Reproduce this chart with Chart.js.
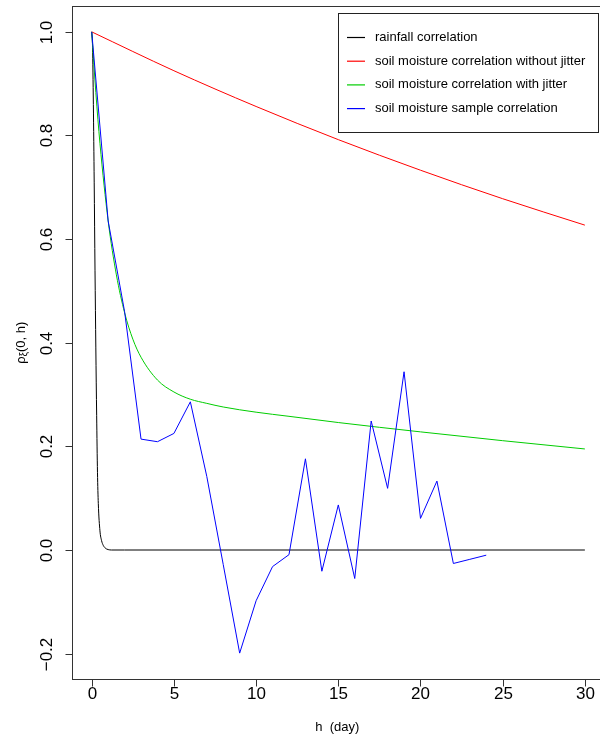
<!DOCTYPE html>
<html>
<head>
<meta charset="utf-8">
<script src="https://cdn.jsdelivr.net/npm/chart.js@4"></script>
<style>
  html, body { margin: 0; padding: 0; background: #fff; overflow: hidden; }
  canvas { display: block; }
</style>
</head>
<body>
<canvas id="c" width="610" height="738"></canvas>
<script>
// Lags (days) and correlation values for each curve
const rainLag = [0, 0.05, 0.1, 0.15, 0.2, 0.25, 0.3, 0.35, 0.4, 0.5, 0.6, 0.7, 0.8, 0.9, 1.0, 1.2, 2, 30];
const rainCorr = [1, 0.97, 0.86, 0.71, 0.54, 0.39, 0.26, 0.15, 0.09, 0.037, 0.018, 0.009, 0.0045, 0.002, 0.0008, 0, 0, 0];

const noJitterLag = [0, 5, 10, 15, 20, 25, 30];
const noJitterCorr = [1.0, 0.925, 0.856, 0.792, 0.733, 0.678, 0.627];

const jitterLag = [0, 0.25, 0.5, 1, 1.5, 2, 2.5, 3, 4, 5, 6, 7, 8, 10, 12, 15, 20, 25, 30];
const jitterCorr = [1.0, 0.883, 0.785, 0.635, 0.531, 0.458, 0.407, 0.372, 0.328, 0.305, 0.291, 0.283, 0.276, 0.266, 0.258, 0.246, 0.228, 0.211, 0.195];

const sampleLag = [0, 1, 2, 3, 4, 5, 6, 7, 8, 9, 10, 11, 12, 13, 14, 15, 16, 17, 18, 19, 20, 21, 22, 23, 24];
const sampleCorr = [1.0, 0.635, 0.46, 0.214, 0.209, 0.225, 0.286, 0.142, -0.028, -0.199, -0.098, -0.032, -0.009, 0.176, -0.041, 0.087, -0.055, 0.249, 0.119, 0.344, 0.061, 0.133, -0.026, -0.018, -0.010];

const seriesLabels = [
  'rainfall correlation',
  'soil moisture correlation without jitter',
  'soil moisture correlation with jitter',
  'soil moisture sample correlation'
];
const seriesColors = ['#000000', '#FF0000', '#00CD00', '#0000FF'];

const xTicks = [0, 5, 10, 15, 20, 25, 30];
const yTicks = [-0.2, 0.0, 0.2, 0.4, 0.6, 0.8, 1.0];
const yTickLabels = ['\u22120.2', '0.0', '0.2', '0.4', '0.6', '0.8', '1.0'];

const FONT = '"Liberation Sans", Arial, Helvetica, sans-serif';

function pts(xs, ys) { return xs.map((x, i) => ({ x: x, y: ys[i] })); }

// Base-graphics style frame: box, outward ticks, rotated y labels, legend
const framePlugin = {
  id: 'frame',
  afterDraw(chart) {
    const ctx = chart.ctx;
    const a = chart.chartArea;
    const xs = chart.scales.x, ys = chart.scales.y;
    ctx.save();
    ctx.strokeStyle = '#333';
    ctx.lineWidth = 1;
    ctx.strokeRect(Math.round(a.left) + 0.5, Math.round(a.top) - 0.5,
                   Math.round(a.right - a.left), Math.round(a.bottom - a.top) + 1);

    // x axis ticks and labels
    ctx.fillStyle = '#000';
    ctx.font = '17px ' + FONT;
    ctx.textAlign = 'center';
    ctx.textBaseline = 'middle';
    const by = Math.round(a.bottom) + 0.5;
    xTicks.forEach(v => {
      const px = Math.round(xs.getPixelForValue(v)) + 0.5;
      ctx.beginPath(); ctx.moveTo(px, by); ctx.lineTo(px, by + 7); ctx.stroke();
      ctx.fillText(String(v), px, 694);
    });

    // y axis ticks and rotated labels
    const lx = Math.round(a.left) + 0.5;
    yTicks.forEach((v, i) => {
      const py = Math.round(ys.getPixelForValue(v)) + 0.5;
      ctx.beginPath(); ctx.moveTo(lx, py); ctx.lineTo(lx - 7, py); ctx.stroke();
      ctx.save();
      ctx.translate(47, py);
      ctx.rotate(-Math.PI / 2);
      ctx.fillText(yTickLabels[i], 0, 0);
      ctx.restore();
    });

    // axis titles
    ctx.font = '13px ' + FONT;
    ctx.fillText('h  (day)', (a.left + a.right) / 2 - 1, 727);

    ctx.save();
    ctx.translate(20, (a.top + a.bottom) / 2);
    ctx.rotate(-Math.PI / 2);
    ctx.textAlign = 'left';
    ctx.textBaseline = 'alphabetic';
    const rho = '\u03C1', xi = '\u03BE', rest = '(0, h)';
    ctx.font = '13px ' + FONT;
    const w1 = ctx.measureText(rho).width;
    ctx.font = '10px ' + FONT;
    const w2 = ctx.measureText(xi).width;
    ctx.font = '13px ' + FONT;
    const w3 = ctx.measureText(rest).width;
    const x0 = -(w1 + w2 + w3) / 2;
    const base = 5;
    ctx.fillText(rho, x0, base);
    ctx.font = '10px ' + FONT;
    ctx.fillText(xi, x0 + w1, base + 2);
    ctx.font = '13px ' + FONT;
    ctx.fillText(rest, x0 + w1 + w2, base);
    ctx.restore();

    // legend
    const L = { left: 338, top: 13, right: 598, bottom: 132 };
    ctx.fillStyle = '#fff';
    ctx.fillRect(L.left, L.top, L.right - L.left, L.bottom - L.top);
    ctx.strokeStyle = '#222';
    ctx.strokeRect(L.left + 0.5, L.top + 0.5, L.right - L.left, L.bottom - L.top);
    ctx.font = '13px ' + FONT;
    ctx.textAlign = 'left';
    ctx.textBaseline = 'middle';
    seriesLabels.forEach((label, i) => {
      const ry = 37.5 + i * 23.7;
      ctx.strokeStyle = seriesColors[i];
      ctx.lineWidth = 1.2;
      ctx.beginPath(); ctx.moveTo(347, ry); ctx.lineTo(365, ry); ctx.stroke();
      ctx.fillStyle = '#000';
      ctx.fillText(label, 375, ry);
    });
    ctx.restore();
  }
};

const curves = [
  { lag: rainLag, corr: rainCorr, smooth: true },
  { lag: noJitterLag, corr: noJitterCorr, smooth: true },
  { lag: jitterLag, corr: jitterCorr, smooth: true },
  { lag: sampleLag, corr: sampleCorr, smooth: false }
];

new Chart(document.getElementById('c'), {
  type: 'line',
  data: {
    datasets: curves.map((c, i) => ({
      label: seriesLabels[i],
      data: pts(c.lag, c.corr),
      borderColor: seriesColors[i],
      cubicInterpolationMode: c.smooth ? 'monotone' : 'default',
      tension: 0,
      order: 3 - i
    }))
  },
  options: {
    responsive: false,
    devicePixelRatio: 1,
    animation: false,
    layout: { padding: { left: 72, top: 7, right: 5.4, bottom: 59.5 } },
    elements: { point: { radius: 0 }, line: { borderWidth: 1, fill: false } },
    scales: {
      x: { type: 'linear', min: -1.2, max: 31.2, display: false },
      y: { type: 'linear', min: -0.248, max: 1.048, display: false }
    },
    plugins: { legend: { display: false }, tooltip: { enabled: false } }
  },
  plugins: [framePlugin]
});
</script>
</body>
</html>
